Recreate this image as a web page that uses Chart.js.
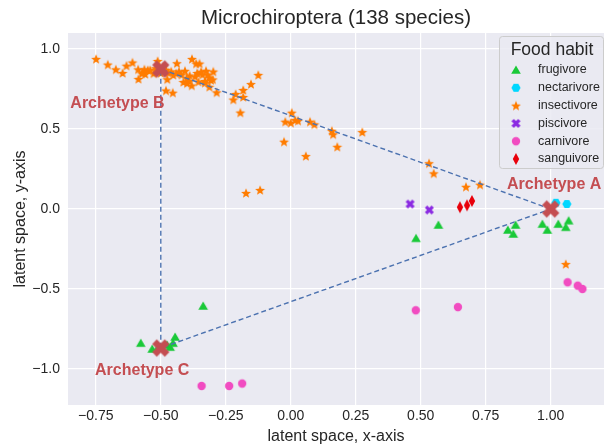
<!DOCTYPE html>
<html>
<head>
<meta charset="utf-8">
<script src="https://cdn.jsdelivr.net/npm/chart.js@4.4.0/dist/chart.umd.min.js"></script>
<style>
    html, body { margin: 0; padding: 0; background: #fff; }
</style>
</head>
<body>
<canvas id="chart" width="608" height="448"></canvas>
<script>

var chartTitle = 'Microchiroptera (138 species)';
var xTicks = [-0.75, -0.5, -0.25, 0, 0.25, 0.5, 0.75, 1.0];
var yTicks = [-1.0, -0.5, 0, 0.5, 1.0];

// archetypes (corners of the triangle) and where their labels sit
var archetypeNames = ['Archetype A', 'Archetype B', 'Archetype C'];
var archetypeX = [1.0, -0.5, -0.5];
var archetypeY = [0.0, 0.875, -0.869];
var labelX = [0.832, -0.848, -0.753];
var labelY = [0.15, 0.656, -1.012];

var habits = ['frugivore', 'nectarivore', 'insectivore', 'piscivore', 'carnivore', 'sanguivore'];

var frugivore = [[-0.337, -0.606], [-0.577, -0.838], [-0.533, -0.875], [-0.510, -0.863], [-0.476, -0.850],
    [-0.464, -0.863], [-0.453, -0.838], [-0.445, -0.800], [0.568, -0.100], [0.482, -0.183],
    [0.835, -0.131], [0.856, -0.156], [0.865, -0.100], [0.968, -0.094], [0.987, -0.131],
    [1.029, -0.094], [1.058, -0.114], [1.069, -0.073]];

var nectarivore = [[1.020, 0.039], [1.062, 0.031]];

var insectivore = [[-0.749, 0.938], [-0.704, 0.903], [-0.673, 0.873], [-0.647, 0.850], [-0.632, 0.896],
    [-0.609, 0.916], [-0.587, 0.873], [-0.586, 0.813], [-0.570, 0.853], [-0.563, 0.873],
    [-0.550, 0.869], [-0.541, 0.869], [-0.528, 0.848], [-0.560, 0.844], [-0.573, 0.848],
    [-0.512, 0.925], [-0.480, 0.741], [-0.454, 0.727], [-0.438, 0.911], [-0.475, 0.811],
    [-0.471, 0.852], [-0.452, 0.838], [-0.441, 0.848], [-0.407, 0.864], [-0.380, 0.938],
    [-0.364, 0.909], [-0.351, 0.909], [-0.389, 0.834], [-0.368, 0.828], [-0.345, 0.858],
    [-0.326, 0.864], [-0.298, 0.859], [-0.313, 0.821], [-0.307, 0.806], [-0.413, 0.794],
    [-0.399, 0.786], [-0.381, 0.772], [-0.355, 0.796], [-0.330, 0.789], [-0.313, 0.764],
    [-0.285, 0.729], [-0.212, 0.719], [-0.221, 0.684], [-0.183, 0.744], [-0.183, 0.700],
    [-0.153, 0.781], [-0.125, 0.838], [-0.194, 0.603], [0.004, 0.602], [-0.021, 0.546],
    [0.000, 0.539], [0.017, 0.556], [0.028, 0.552], [0.074, 0.546], [0.091, 0.529],
    [0.158, 0.489], [0.163, 0.467], [0.179, 0.389], [0.275, 0.481], [-0.026, 0.421],
    [0.058, 0.331], [-0.172, 0.100], [-0.118, 0.119], [0.532, 0.286], [0.550, 0.223],
    [0.674, 0.139], [0.728, 0.152], [1.058, -0.344],
    [-0.52, 0.88], [-0.49, 0.89], [-0.50, 0.85], [-0.48, 0.87], [-0.51, 0.86],
    [-0.46, 0.86], [-0.43, 0.86], [-0.42, 0.84], [-0.36, 0.85], [-0.34, 0.84],
    [-0.33, 0.80], [-0.32, 0.84], [-0.30, 0.81], [-0.39, 0.80], [-0.40, 0.82]];

var piscivore = [[0.459, 0.031], [0.533, -0.006]];

var carnivore = [[0.481, -0.633], [0.643, -0.613], [1.065, -0.458], [1.104, -0.479], [1.122, -0.500],
    [-0.343, -1.106], [-0.237, -1.106], [-0.187, -1.091]];

var sanguivore = [[0.651, 0.011], [0.678, 0.023], [0.697, 0.050]];

var colors = {
    frugivore: '#1ac938',
    nectarivore: '#00d7ff',
    insectivore: '#ff7c00',
    piscivore: '#8b2be2',
    carnivore: '#f14cc1',
    sanguivore: '#e8000b'
};
var archetypeColor = '#c44e52';
var triangleColor = '#4c72b0';
var textColor = '#262626';
var font = "'Liberation Sans', Arial, sans-serif";

// --- marker images ---
function markerCanvas(w, h, paint) {
    var c = document.createElement('canvas');
    c.width = w;
    c.height = h;
    var g = c.getContext('2d');
    paint(g, w / 2, h / 2);
    return c;
}

function starMarker(color) {
    return markerCanvas(12, 12, function (g, cx, cy) {
        g.beginPath();
        for (var i = 0; i < 10; i++) {
            var a = -Math.PI / 2 + i * Math.PI / 5;
            var r = i % 2 ? 2.3 : 5.2;
            g.lineTo(cx + r * Math.cos(a), cy + 0.5 + r * Math.sin(a));
        }
        g.closePath();
        g.fillStyle = color;
        g.fill();
    });
}

function triangleMarker(color) {
    return markerCanvas(12, 12, function (g, cx, cy) {
        g.beginPath();
        g.moveTo(cx, cy - 4.5);
        g.lineTo(cx + 4.8, cy + 3.8);
        g.lineTo(cx - 4.8, cy + 3.8);
        g.closePath();
        g.fillStyle = color;
        g.fill();
    });
}

function hexMarker(color) {
    return markerCanvas(12, 12, function (g, cx, cy) {
        g.beginPath();
        for (var i = 0; i < 6; i++) {
            var a = i * Math.PI / 3;
            g.lineTo(cx + 4.6 * Math.cos(a), cy + 4.6 * Math.sin(a));
        }
        g.closePath();
        g.fillStyle = color;
        g.fill();
    });
}

function circleMarker(color) {
    return markerCanvas(12, 12, function (g, cx, cy) {
        g.beginPath();
        g.arc(cx, cy, 4.2, 0, Math.PI * 2);
        g.fillStyle = color;
        g.fill();
    });
}

function diamondMarker(color) {
    return markerCanvas(10, 14, function (g, cx, cy) {
        g.beginPath();
        g.moveTo(cx, cy - 6);
        g.lineTo(cx + 3.2, cy);
        g.lineTo(cx, cy + 6);
        g.lineTo(cx - 3.2, cy);
        g.closePath();
        g.fillStyle = color;
        g.fill();
    });
}

function crossMarker(color, size, thick) {
    return markerCanvas(size + 4, size + 4, function (g, cx, cy) {
        var d = size / 2 - thick / 3;
        g.strokeStyle = color;
        g.lineWidth = thick;
        g.lineCap = 'butt';
        g.beginPath();
        g.moveTo(cx - d, cy - d);
        g.lineTo(cx + d, cy + d);
        g.moveTo(cx + d, cy - d);
        g.lineTo(cx - d, cy + d);
        g.stroke();
    });
}

var markers = {
    frugivore: triangleMarker(colors.frugivore),
    nectarivore: hexMarker(colors.nectarivore),
    insectivore: starMarker(colors.insectivore),
    piscivore: crossMarker(colors.piscivore, 9, 3.4),
    carnivore: circleMarker(colors.carnivore),
    sanguivore: diamondMarker(colors.sanguivore)
};
var archetypeMarker = crossMarker(archetypeColor, 17, 6.5);

function toPoints(pairs) {
    return pairs.map(function (p) { return { x: p[0], y: p[1] }; });
}

var speciesData = {
    frugivore: frugivore,
    nectarivore: nectarivore,
    insectivore: insectivore,
    piscivore: piscivore,
    carnivore: carnivore,
    sanguivore: sanguivore
};

// first dataset is drawn on top
var datasets = [];
datasets.push({
    label: 'archetypes',
    data: archetypeX.map(function (x, i) { return { x: x, y: archetypeY[i] }; }),
    pointStyle: archetypeMarker,
    pointRadius: 9
});
var loop = archetypeX.concat([archetypeX[0]]).map(function (x, i) {
    return { x: x, y: archetypeY[i % 3] };
});
datasets.push({
    label: 'triangle',
    data: loop,
    showLine: true,
    borderColor: triangleColor,
    borderWidth: 1.4,
    borderDash: [5, 3],
    pointRadius: 0,
    tension: 0
});
habits.slice().reverse().forEach(function (h) {
    datasets.push({
        label: h,
        data: toPoints(speciesData[h]),
        pointStyle: markers[h],
        pointRadius: 5
    });
});

function fmt(v, digits) {
    return v.toFixed(digits).replace('-', '\u2212');
}

var backgroundPlugin = {
    id: 'background',
    beforeDraw: function (chart) {
        var a = chart.chartArea;
        var ctx = chart.ctx;
        ctx.save();
        ctx.fillStyle = '#eaeaf2';
        ctx.fillRect(a.left, a.top, a.right - a.left, a.bottom - a.top);
        ctx.restore();
    }
};

var labelsPlugin = {
    id: 'archetypeLabels',
    afterDatasetsDraw: function (chart) {
        var ctx = chart.ctx;
        var xs = chart.scales.x, ys = chart.scales.y;
        ctx.save();
        ctx.font = 'bold 16px ' + font;
        ctx.fillStyle = archetypeColor;
        ctx.textAlign = 'left';
        ctx.textBaseline = 'middle';
        archetypeNames.forEach(function (name, i) {
            ctx.fillText(name, xs.getPixelForValue(labelX[i]), ys.getPixelForValue(labelY[i]));
        });
        ctx.restore();
    }
};

var titleLegendPlugin = {
    id: 'titleLegend',
    afterDraw: function (chart) {
        var ctx = chart.ctx;
        var a = chart.chartArea;
        ctx.save();
        ctx.fillStyle = textColor;
        ctx.font = '20.5px ' + font;
        ctx.textAlign = 'center';
        ctx.textBaseline = 'middle';
        ctx.fillText(chartTitle, (a.left + a.right) / 2, 18);

        // legend box
        var bx = a.right - 105, by = a.top + 3, bw = 104, bh = 132;
        ctx.fillStyle = 'rgba(234,234,242,0.85)';
        ctx.strokeStyle = '#cccccc';
        ctx.lineWidth = 1;
        ctx.beginPath();
        ctx.roundRect(bx + 0.5, by + 0.5, bw, bh, 3);
        ctx.fill();
        ctx.stroke();

        ctx.fillStyle = textColor;
        ctx.font = '17.5px ' + font;
        ctx.textAlign = 'center';
        ctx.fillText('Food habit', bx + bw / 2 + 1, by + 14);

        ctx.font = '12.5px ' + font;
        ctx.textAlign = 'left';
        habits.forEach(function (h, i) {
            var ry = by + 34 + i * 17.8;
            var m = markers[h];
            ctx.drawImage(m, bx + 17 - m.width / 2, ry - m.height / 2);
            ctx.fillText(h, bx + 39, ry);
        });
        ctx.restore();
    }
};

var chart = new Chart(document.getElementById('chart'), {
    type: 'scatter',
    data: { datasets: datasets },
    options: {
        responsive: false,
        animation: false,
        layout: {
            autoPadding: false,
            padding: { top: 33, right: 4, left: 0, bottom: 0 }
        },
        plugins: {
            legend: { display: false },
            tooltip: { enabled: false }
        },
        scales: {
            x: {
                type: 'linear',
                min: -0.857,
                max: 1.205,
                afterBuildTicks: function (s) {
                    s.ticks = xTicks.map(function (v) { return { value: v }; });
                },
                afterFit: function (s) {
                    s.height = 43;
                    s.paddingLeft = 0;
                    s.paddingRight = 0;
                },
                border: { display: false },
                grid: { color: '#ffffff', lineWidth: 1.2, drawTicks: false },
                ticks: {
                    padding: 3,
                    color: textColor,
                    font: { family: font, size: 14 },
                    maxRotation: 0,
                    callback: function (v) { return fmt(v, 2); }
                },
                title: {
                    display: true,
                    text: 'latent space, x-axis',
                    color: textColor,
                    font: { family: font, size: 16 },
                    padding: { top: 0, bottom: 2 }
                }
            },
            y: {
                type: 'linear',
                min: -1.225,
                max: 1.10,
                afterBuildTicks: function (s) {
                    s.ticks = yTicks.map(function (v) { return { value: v }; });
                },
                afterFit: function (s) {
                    s.width = 68;
                    s.paddingTop = 0;
                    s.paddingBottom = 0;
                },
                border: { display: false },
                grid: { color: '#ffffff', lineWidth: 1.2, drawTicks: false },
                ticks: {
                    padding: 8,
                    color: textColor,
                    font: { family: font, size: 14 },
                    callback: function (v) { return fmt(v, 1); }
                },
                title: {
                    display: true,
                    text: 'latent space, y-axis',
                    color: textColor,
                    font: { family: font, size: 16 },
                    padding: { top: 11, bottom: 0 }
                }
            }
        }
    },
    plugins: [backgroundPlugin, labelsPlugin, titleLegendPlugin]
});

</script>
</body>
</html>
